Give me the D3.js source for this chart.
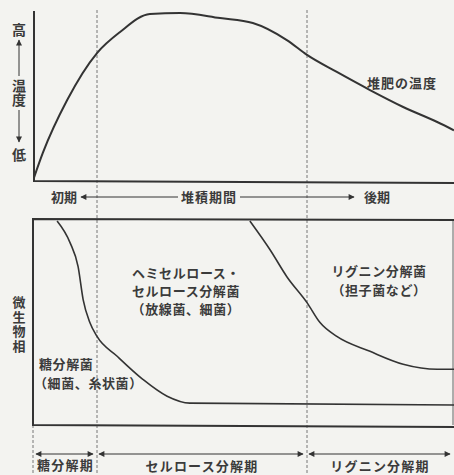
<!DOCTYPE html>
<html>
<head>
<meta charset="utf-8">
<script src="https://cdn.jsdelivr.net/npm/d3@7"></script>
<style>
  body { margin: 0; background: #f3f3f0; }
  svg { display: block; }
  text { font-family: "Noto Sans CJK JP", "Noto Sans", sans-serif; font-weight: 700; fill: #3b3b3b; }
  .vert { writing-mode: vertical-rl; }
</style>
</head>
<body>
<svg id="chart" width="454" height="475"></svg>
<script>
// compost temperature (0 = low, 100 = high) over the composting period (0..100)
const tempTime  = [0, 2.1, 7.9, 15, 20.5, 27.6, 34.8, 44.3, 52.1, 60.2, 65, 72.1, 80, 87.9, 96, 100];
const tempValue = [2, 16.6, 47.9, 75.7, 88.2, 98.8, 99.4, 96.4, 93.5, 83.4, 74.6, 64.5, 53.8, 43.8, 34.9, 30];

// boundary of sugar decomposers (bottom area)
const sugarTime  = [5.5, 8.6, 10.5, 11.7, 13.3, 15, 19.8, 25.9, 31.7, 37.1, 100];
const sugarValue = [100, 89.3, 77.6, 61.5, 50.2, 43.4, 33.7, 22.4, 14.1, 10.7, 9.8];

// boundary of hemicellulose / cellulose decomposers
const celluloseTime  = [51.4, 56.2, 60.2, 65, 68.1, 72.1, 80, 87.9, 96, 100];
const celluloseValue = [100, 85.9, 72.7, 60, 50.2, 43.4, 36.1, 29.8, 27.3, 27.3];

// phases
const phaseBounds = [0, 15, 65, 100];
const phaseLabels = ["糖分解期", "セルロース分解期", "リグニン分解期"];
const periodLabels = ["初期", "堆積期間", "後期"];

const svg = d3.select("#chart");
const ink = "#333";

const x = d3.scaleLinear().domain([0, 100]).range([34, 454]);
const yTemp = d3.scaleLinear().domain([0, 100]).range([181, 12]);
const yMic = d3.scaleLinear().domain([0, 100]).range([425, 221]);

// arrow heads
const defs = svg.append("defs");
defs.append("marker")
  .attr("id", "head")
  .attr("viewBox", "0 0 10 10")
  .attr("refX", 9).attr("refY", 5)
  .attr("markerWidth", 9).attr("markerHeight", 6)
  .attr("markerUnits", "userSpaceOnUse")
  .attr("orient", "auto-start-reverse")
  .append("path")
  .attr("d", "M0,0 L10,5 L0,10 z")
  .attr("fill", ink);

// dashed phase boundaries
svg.selectAll(".phase")
  .data(phaseBounds.slice(1, 3))
  .enter().append("line")
  .attr("class", "phase")
  .attr("x1", d => x(d)).attr("x2", d => x(d))
  .attr("y1", 10).attr("y2", 475)
  .attr("stroke", "#777").attr("stroke-width", 1)
  .attr("stroke-dasharray", "3,2");
svg.append("line")
  .attr("x1", x(0) - 1).attr("x2", x(0) - 1)
  .attr("y1", yMic(0)).attr("y2", 475)
  .attr("stroke", "#777").attr("stroke-width", 1)
  .attr("stroke-dasharray", "3,2");

// ---- top panel: temperature ----
svg.append("path")
  .attr("d", `M${x(0)},${yTemp(100) - 1} L${x(0)},${yTemp(0)} L454,${yTemp(0) + 2}`)
  .attr("fill", "none").attr("stroke", ink).attr("stroke-width", 2);

const tempLine = d3.line()
  .x(d => x(d[0])).y(d => yTemp(d[1]))
  .curve(d3.curveMonotoneX);
svg.append("path")
  .datum(d3.zip(tempTime, tempValue))
  .attr("d", tempLine)
  .attr("fill", "none").attr("stroke", ink).attr("stroke-width", 2);

svg.append("text")
  .attr("x", 367).attr("y", 88)
  .attr("font-size", 13).attr("letter-spacing", 1)
  .text("堆肥の温度");

// y axis label  高 ↑ 温度 ↓ 低
const yl = svg.append("g").attr("font-size", 14).attr("text-anchor", "middle");
yl.append("text").attr("x", 19).attr("y", 35).text("高");
yl.append("text").attr("class", "vert").attr("x", 19).attr("y", 93).text("温度");
yl.append("text").attr("x", 19).attr("y", 160).text("低");
svg.append("line").attr("x1", 19).attr("x2", 19).attr("y1", 76).attr("y2", 40)
  .attr("stroke", ink).attr("stroke-width", 1).attr("marker-end", "url(#head)");
svg.append("line").attr("x1", 19).attr("x2", 19).attr("y1", 110).attr("y2", 142)
  .attr("stroke", ink).attr("stroke-width", 1).attr("marker-end", "url(#head)");

// period row
const py = 197;
svg.append("text").attr("x", 77).attr("y", py + 5).attr("font-size", 13)
  .attr("text-anchor", "end").text(periodLabels[0]);
svg.append("text").attr("x", 209).attr("y", py + 5).attr("font-size", 13)
  .attr("text-anchor", "middle").attr("letter-spacing", 1).text(periodLabels[1]);
svg.append("text").attr("x", 364).attr("y", py + 5).attr("font-size", 13)
  .text(periodLabels[2]);
svg.append("line").attr("x1", 178).attr("x2", 81).attr("y1", py).attr("y2", py)
  .attr("stroke", ink).attr("stroke-width", 1).attr("marker-end", "url(#head)");
svg.append("line").attr("x1", 240).attr("x2", 354).attr("y1", py).attr("y2", py)
  .attr("stroke", ink).attr("stroke-width", 1).attr("marker-end", "url(#head)");

// ---- bottom panel: microbial flora ----
svg.append("path")
  .attr("d", `M454,${yMic(100) - 1} L${x(0) - 1},${yMic(100) - 2} L${x(0) - 1},${yMic(0)} L454,${yMic(0) + 2}`)
  .attr("fill", "none").attr("stroke", ink).attr("stroke-width", 2);
svg.append("line").attr("x1", 453).attr("x2", 453).attr("y1", yMic(100)).attr("y2", yMic(0))
  .attr("stroke", "#666").attr("stroke-width", 1);

const micLine = d3.line()
  .x(d => x(d[0])).y(d => yMic(d[1]))
  .curve(d3.curveMonotoneX);
svg.append("path")
  .datum(d3.zip(sugarTime, sugarValue))
  .attr("d", micLine)
  .attr("fill", "none").attr("stroke", ink).attr("stroke-width", 1.6);
svg.append("path")
  .datum(d3.zip(celluloseTime, celluloseValue))
  .attr("d", micLine)
  .attr("fill", "none").attr("stroke", ink).attr("stroke-width", 1.6);

// "微生物相" vertical
svg.append("text").attr("class", "vert")
  .attr("font-size", 13).attr("letter-spacing", 1.5).attr("text-anchor", "middle")
  .attr("x", 19).attr("y", 325)
  .text("微生物相");

// multi-line label as one text with tspans
function block(lines, x0, y0, step, anchor, dx) {
  const t = svg.append("text").attr("font-size", 13)
    .attr("text-anchor", anchor).attr("letter-spacing", 0.6)
    .attr("y", y0);
  t.selectAll("tspan").data(lines).enter().append("tspan")
    .attr("x", (d, i) => x0 + (dx ? dx[i] : 0))
    .attr("dy", (d, i) => i ? step : 0)
    .text(d => d);
}
block(["ヘミセルロース・", "セルロース分解菌", "（放線菌、細菌）"], 186, 278, 18, "middle");
block(["リグニン分解菌", "（担子菌など）"], 379, 276, 18.5, "middle");
block(["糖分解菌", "（細菌、糸状菌）"], 34, 369, 18.5, "start", [5, 0]);

// phase arrows and labels
const ay = 454;
svg.selectAll(".parrow")
  .data(d3.pairs(phaseBounds))
  .enter().append("line")
  .attr("class", "parrow")
  .attr("x1", d => x(d[0]) + 2).attr("x2", d => Math.min(x(d[1]) - 4, 452))
  .attr("y1", ay).attr("y2", ay)
  .attr("stroke", ink).attr("stroke-width", 1)
  .attr("marker-start", "url(#head)").attr("marker-end", "url(#head)");

const labelY = [470, 471, 471];
svg.selectAll(".plabel")
  .data(phaseLabels)
  .enter().append("text")
  .attr("class", "plabel")
  .attr("font-size", 13).attr("letter-spacing", 1.2)
  .attr("text-anchor", "middle")
  .attr("x", (d, i) => i === 2 ? 380 : (x(phaseBounds[i]) + x(phaseBounds[i + 1])) / 2)
  .attr("y", (d, i) => labelY[i])
  .text(d => d);
</script>
</body>
</html>
